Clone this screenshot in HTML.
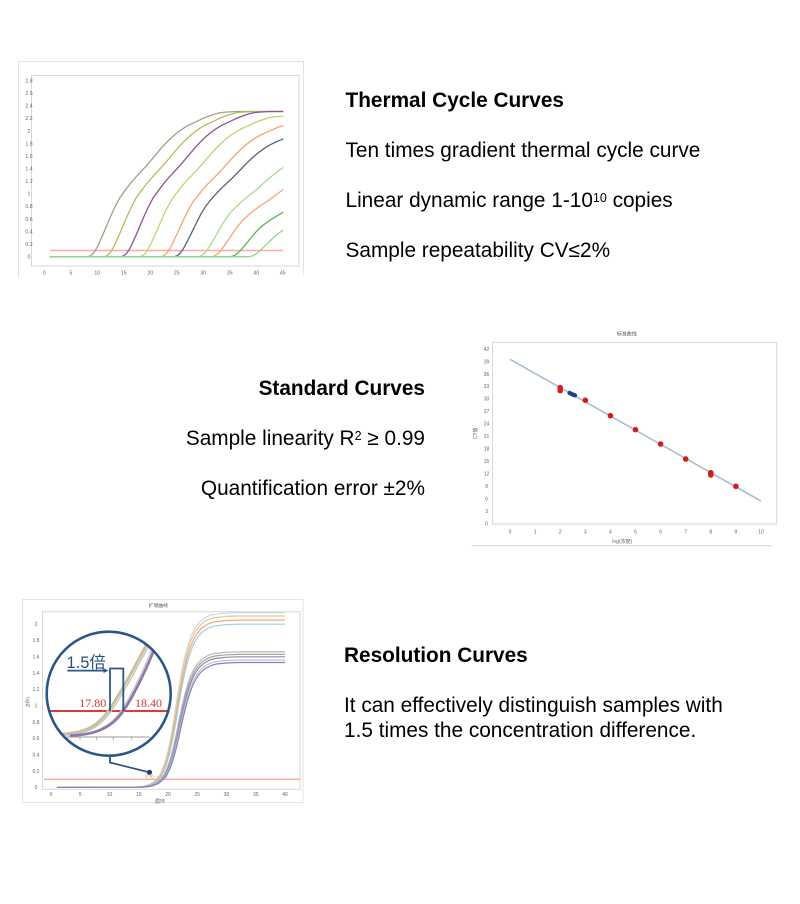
<!DOCTYPE html>
<html>
<head>
<meta charset="utf-8">
<style>
html,body{margin:0;padding:0;background:#fff;}
body{width:800px;height:904px;position:relative;overflow:hidden;font-family:"Liberation Sans","Noto Sans CJK SC",sans-serif;color:#000;}
.t{position:absolute;font-size:20.8px;line-height:24px;white-space:nowrap;}
.b{font-weight:bold;}
.r{text-align:right;}
sup{font-size:12.5px;line-height:0;vertical-align:5px;}
svg{position:absolute;left:0;top:0;}
</style>
</head>
<body>
<svg width="800" height="904" viewBox="0 0 800 904" xmlns="http://www.w3.org/2000/svg" font-family="Liberation Sans, Noto Sans CJK SC, sans-serif">
<defs>
<clipPath id="c1"><rect x="49.6" y="60" width="233.7" height="215"/></clipPath>
<clipPath id="c3"><rect x="56.8" y="600" width="228.2" height="195"/></clipPath>
<clipPath id="cc"><circle cx="108.7" cy="693.7" r="61"/></clipPath>
</defs>

<!-- ============ CHART 1 ============ -->
<path d="M18.5,278 L18.5,61.5 L303.5,61.5 L303.5,275" fill="none" stroke="#e3e3e3" stroke-width="1"/>
<rect x="31.5" y="75.5" width="267.5" height="190.5" fill="none" stroke="#d8d8d8" stroke-width="1"/>
<g font-size="5.2" fill="#666" text-anchor="middle">
<text x="29" y="258.5">0</text>
<text x="29" y="245.9">0.2</text>
<text x="29" y="233.4">0.4</text>
<text x="29" y="220.8">0.6</text>
<text x="29" y="208.2">0.8</text>
<text x="29" y="195.6">1</text>
<text x="29" y="183.1">1.2</text>
<text x="29" y="170.5">1.4</text>
<text x="29" y="157.9">1.6</text>
<text x="29" y="145.3">1.8</text>
<text x="29" y="132.8">2</text>
<text x="29" y="120.2">2.2</text>
<text x="29" y="107.6">2.4</text>
<text x="29" y="95.1">2.6</text>
<text x="29" y="82.5">2.8</text>
<text x="44.3" y="274.5">0</text>
<text x="70.8" y="274.5">5</text>
<text x="97.3" y="274.5">10</text>
<text x="123.8" y="274.5">15</text>
<text x="150.3" y="274.5">20</text>
<text x="176.8" y="274.5">25</text>
<text x="203.3" y="274.5">30</text>
<text x="229.8" y="274.5">35</text>
<text x="256.3" y="274.5">40</text>
<text x="282.8" y="274.5">45</text>
</g>
<line x1="50" y1="250.5" x2="283.3" y2="250.5" stroke="#f6b09c" stroke-width="1.6"/>
<g clip-path="url(#c1)" fill="none" stroke-width="1.3">
<path vector-effect="non-scaling-stroke" stroke="#a29e82" transform="matrix(5.3,0,0,-62.86,87.76,256.7)" d="M-40,0 L0,0 L0.5,0.015 L1,0.05 L1.5,0.11 L2,0.19 L3,0.38 L4,0.58 L5,0.77 L6,0.93 L7,1.05 L8,1.16 L9,1.26 L10,1.35 L11,1.44 L12,1.54 L13,1.64 L14,1.74 L15,1.83 L16,1.91 L17,1.98 L18,2.04 L19,2.09 L20,2.13 L21,2.17 L22,2.21 L23,2.24 L24,2.27 L25,2.29 L26,2.30 L28,2.31 L50,2.31"/>
<path vector-effect="non-scaling-stroke" stroke="#b4bc5a" transform="matrix(5.3,0,0,-62.86,104.19,256.7)" d="M-40,0 L0,0 L0.5,0.015 L1,0.05 L1.5,0.11 L2,0.19 L3,0.38 L4,0.58 L5,0.77 L6,0.93 L7,1.05 L8,1.16 L9,1.26 L10,1.35 L11,1.44 L12,1.54 L13,1.64 L14,1.74 L15,1.83 L16,1.91 L17,1.98 L18,2.04 L19,2.09 L20,2.13 L21,2.17 L22,2.21 L23,2.24 L24,2.27 L25,2.29 L26,2.30 L28,2.31 L50,2.31"/>
<path vector-effect="non-scaling-stroke" stroke="#8e5490" transform="matrix(5.3,0,0,-62.86,121.15,256.7)" d="M-40,0 L0,0 L0.5,0.015 L1,0.05 L1.5,0.11 L2,0.19 L3,0.38 L4,0.58 L5,0.77 L6,0.93 L7,1.05 L8,1.16 L9,1.26 L10,1.35 L11,1.44 L12,1.54 L13,1.64 L14,1.74 L15,1.83 L16,1.91 L17,1.98 L18,2.04 L19,2.09 L20,2.13 L21,2.17 L22,2.21 L23,2.24 L24,2.27 L25,2.29 L26,2.30 L28,2.31 L50,2.31"/>
<path vector-effect="non-scaling-stroke" stroke="#bcd472" transform="matrix(5.3,0,0,-60.97,139.7,256.7)" d="M-40,0 L0,0 L0.5,0.015 L1,0.05 L1.5,0.11 L2,0.19 L3,0.38 L4,0.58 L5,0.77 L6,0.93 L7,1.05 L8,1.16 L9,1.26 L10,1.35 L11,1.44 L12,1.54 L13,1.64 L14,1.74 L15,1.83 L16,1.91 L17,1.98 L18,2.04 L19,2.09 L20,2.13 L21,2.17 L22,2.21 L23,2.24 L24,2.27 L25,2.29 L26,2.30 L28,2.31 L50,2.31"/>
<path vector-effect="non-scaling-stroke" stroke="#f3a472" transform="matrix(5.3,0,0,-58.46,160.9,256.7)" d="M-40,0 L0,0 L0.5,0.015 L1,0.05 L1.5,0.11 L2,0.19 L3,0.38 L4,0.58 L5,0.77 L6,0.93 L7,1.05 L8,1.16 L9,1.26 L10,1.35 L11,1.44 L12,1.54 L13,1.64 L14,1.74 L15,1.83 L16,1.91 L17,1.98 L18,2.04 L19,2.09 L20,2.13 L21,2.17 L22,2.21 L23,2.24 L24,2.27 L25,2.29 L26,2.30 L28,2.31 L50,2.31"/>
<path vector-effect="non-scaling-stroke" stroke="#5e5e74" transform="matrix(5.3,0,0,-54.69,174.15,256.7)" d="M-40,0 L0,0 L0.5,0.015 L1,0.05 L1.5,0.11 L2,0.19 L3,0.38 L4,0.58 L5,0.77 L6,0.93 L7,1.05 L8,1.16 L9,1.26 L10,1.35 L11,1.44 L12,1.54 L13,1.64 L14,1.74 L15,1.83 L16,1.91 L17,1.98 L18,2.04 L19,2.09 L20,2.13 L21,2.17 L22,2.21 L23,2.24 L24,2.27 L25,2.29 L26,2.30 L28,2.31 L50,2.31"/>
<path vector-effect="non-scaling-stroke" stroke="#aadb8e" transform="matrix(5.3,0,0,-46.52,198.0,256.7)" d="M-40,0 L0,0 L0.5,0.015 L1,0.05 L1.5,0.11 L2,0.19 L3,0.38 L4,0.58 L5,0.77 L6,0.93 L7,1.05 L8,1.16 L9,1.26 L10,1.35 L11,1.44 L12,1.54 L13,1.64 L14,1.74 L15,1.83 L16,1.91 L17,1.98 L18,2.04 L19,2.09 L20,2.13 L21,2.17 L22,2.21 L23,2.24 L24,2.27 L25,2.29 L26,2.30 L28,2.31 L50,2.31"/>
<path vector-effect="non-scaling-stroke" stroke="#f2a67a" transform="matrix(5.3,0,0,-39.6,211.25,256.7)" d="M-40,0 L0,0 L0.5,0.015 L1,0.05 L1.5,0.11 L2,0.19 L3,0.38 L4,0.58 L5,0.77 L6,0.93 L7,1.05 L8,1.16 L9,1.26 L10,1.35 L11,1.44 L12,1.54 L13,1.64 L14,1.74 L15,1.83 L16,1.91 L17,1.98 L18,2.04 L19,2.09 L20,2.13 L21,2.17 L22,2.21 L23,2.24 L24,2.27 L25,2.29 L26,2.30 L28,2.31 L50,2.31"/>
<path vector-effect="non-scaling-stroke" stroke="#58b458" transform="matrix(5.3,0,0,-32.69,229.8,256.7)" d="M-40,0 L0,0 L0.5,0.015 L1,0.05 L1.5,0.11 L2,0.19 L3,0.38 L4,0.58 L5,0.77 L6,0.93 L7,1.05 L8,1.16 L9,1.26 L10,1.35 L11,1.44 L12,1.54 L13,1.64 L14,1.74 L15,1.83 L16,1.91 L17,1.98 L18,2.04 L19,2.09 L20,2.13 L21,2.17 L22,2.21 L23,2.24 L24,2.27 L25,2.29 L26,2.30 L28,2.31 L50,2.31"/>
<path vector-effect="non-scaling-stroke" stroke="#92d492" transform="matrix(5.3,0,0,-26.4,248.35,256.7)" d="M-40,0 L0,0 L0.5,0.015 L1,0.05 L1.5,0.11 L2,0.19 L3,0.38 L4,0.58 L5,0.77 L6,0.93 L7,1.05 L8,1.16 L9,1.26 L10,1.35 L11,1.44 L12,1.54 L13,1.64 L14,1.74 L15,1.83 L16,1.91 L17,1.98 L18,2.04 L19,2.09 L20,2.13 L21,2.17 L22,2.21 L23,2.24 L24,2.27 L25,2.29 L26,2.30 L28,2.31 L50,2.31"/>
</g>

<!-- ============ CHART 2 ============ -->
<text x="626.7" y="335.5" font-size="5" fill="#555" text-anchor="middle">标准曲线</text>
<rect x="492.5" y="342.5" width="284.2" height="181.5" fill="none" stroke="#d8d8d8" stroke-width="1"/>
<g font-size="5" fill="#666" text-anchor="middle">
<text x="486.5" y="525.4">0</text>
<text x="486.5" y="512.9">3</text>
<text x="486.5" y="500.5">6</text>
<text x="486.5" y="488.0">9</text>
<text x="486.5" y="475.5">12</text>
<text x="486.5" y="463.1">15</text>
<text x="486.5" y="450.6">18</text>
<text x="486.5" y="438.1">21</text>
<text x="486.5" y="425.7">24</text>
<text x="486.5" y="413.2">27</text>
<text x="486.5" y="400.7">30</text>
<text x="486.5" y="388.2">33</text>
<text x="486.5" y="375.8">36</text>
<text x="486.5" y="363.3">39</text>
<text x="486.5" y="350.9">42</text>
<text x="510" y="533.5">0</text>
<text x="535.1" y="533.5">1</text>
<text x="560.2" y="533.5">2</text>
<text x="585.3" y="533.5">3</text>
<text x="610.4" y="533.5">4</text>
<text x="635.5" y="533.5">5</text>
<text x="660.6" y="533.5">6</text>
<text x="685.7" y="533.5">7</text>
<text x="710.8" y="533.5">8</text>
<text x="735.9" y="533.5">9</text>
<text x="761" y="533.5">10</text>
<text x="622.3" y="543">log(浓度)</text>
<text transform="translate(477.2,433.3) rotate(-90)" x="0" y="0">CT值</text>
</g>
<line x1="471.7" y1="545.7" x2="771.7" y2="545.7" stroke="#d4d4d4" stroke-width="1"/>
<line x1="510" y1="359.3" x2="761" y2="501" stroke="#a9bdd2" stroke-width="1.6"/>
<g fill="#d41c1c">
<circle cx="560.2" cy="387.7" r="2.8"/>
<circle cx="560.2" cy="390.6" r="2.8"/>
<circle cx="585.3" cy="400.3" r="2.8"/>
<circle cx="610.4" cy="415.7" r="2.8"/>
<circle cx="635.5" cy="429.7" r="2.8"/>
<circle cx="660.6" cy="444" r="2.8"/>
<circle cx="685.7" cy="459" r="2.8"/>
<circle cx="710.8" cy="472.7" r="2.8"/>
<circle cx="710.8" cy="475" r="2.8"/>
<circle cx="735.9" cy="486.3" r="2.8"/>
</g>
<g fill="#1d3f8e">
<circle cx="569.6" cy="393" r="2.2"/>
<circle cx="571.6" cy="394" r="2.2"/>
<circle cx="573.5" cy="394.8" r="2.2"/>
<circle cx="575" cy="395.4" r="2.1"/>
</g>

<!-- ============ CHART 3 ============ -->
<rect x="22.5" y="599.5" width="280.5" height="203" fill="none" stroke="#e3e3e3" stroke-width="1"/>
<text x="158.3" y="607" font-size="4.8" fill="#555" text-anchor="middle">扩增曲线</text>
<rect x="42.5" y="611.7" width="257.5" height="177.6" fill="none" stroke="#d8d8d8" stroke-width="1"/>
<g font-size="5" fill="#666" text-anchor="middle">
<text x="36" y="789.2">0</text>
<text x="36" y="772.9">0.2</text>
<text x="36" y="756.5">0.4</text>
<text x="36" y="740.2">0.6</text>
<text x="36" y="723.9">0.8</text>
<text x="36" y="707.5">1</text>
<text x="36" y="691.2">1.2</text>
<text x="36" y="674.9">1.4</text>
<text x="36" y="658.5">1.6</text>
<text x="36" y="642.2">1.8</text>
<text x="36" y="625.9">2</text>
<text x="51" y="796">0</text>
<text x="80.25" y="796">5</text>
<text x="109.5" y="796">10</text>
<text x="138.75" y="796">15</text>
<text x="168" y="796">20</text>
<text x="197.25" y="796">25</text>
<text x="226.5" y="796">30</text>
<text x="255.75" y="796">35</text>
<text x="285" y="796">40</text>
<text x="160" y="803">循环</text>
<text transform="translate(29.5,702) rotate(-90)" x="0" y="0">ΔRn</text>
</g>
<line x1="44" y1="779.3" x2="300" y2="779.3" stroke="#f6b09c" stroke-width="1.5"/>
<text x="145" y="777.5" font-size="3.4" fill="#e06a6a">17.80 ··· 18.40</text>
<g clip-path="url(#c3)" fill="none" stroke-width="1.2">
<path vector-effect="non-scaling-stroke" stroke="#cfd8e6" transform="matrix(5.85,0,0,-174.77,176.78,787.5)" d="M-25,0 L-7,0.002 L-6,0.005 L-5,0.013 L-4,0.03 L-3,0.068 L-2.5,0.1 L-2,0.148 L-1.5,0.212 L-1,0.293 L-0.5,0.39 L0,0.5 L0.5,0.6 L1,0.69 L1.5,0.765 L2,0.825 L2.5,0.87 L3,0.905 L3.5,0.93 L4,0.95 L5,0.975 L6,0.988 L8,0.997 L10,1 L25,1"/>
<path vector-effect="non-scaling-stroke" stroke="#e6c892" transform="matrix(5.85,0,0,-171.5,177.36,787.5)" d="M-25,0 L-7,0.002 L-6,0.005 L-5,0.013 L-4,0.03 L-3,0.068 L-2.5,0.1 L-2,0.148 L-1.5,0.212 L-1,0.293 L-0.5,0.39 L0,0.5 L0.5,0.6 L1,0.69 L1.5,0.765 L2,0.825 L2.5,0.87 L3,0.905 L3.5,0.93 L4,0.95 L5,0.975 L6,0.988 L8,0.997 L10,1 L25,1"/>
<path vector-effect="non-scaling-stroke" stroke="#f2a878" transform="matrix(5.85,0,0,-167.4,177.95,787.5)" d="M-25,0 L-7,0.002 L-6,0.005 L-5,0.013 L-4,0.03 L-3,0.068 L-2.5,0.1 L-2,0.148 L-1.5,0.212 L-1,0.293 L-0.5,0.39 L0,0.5 L0.5,0.6 L1,0.69 L1.5,0.765 L2,0.825 L2.5,0.87 L3,0.905 L3.5,0.93 L4,0.95 L5,0.975 L6,0.988 L8,0.997 L10,1 L25,1"/>
<path vector-effect="non-scaling-stroke" stroke="#9fd0dc" transform="matrix(5.85,0,0,-163.3,178.53,787.5)" d="M-25,0 L-7,0.002 L-6,0.005 L-5,0.013 L-4,0.03 L-3,0.068 L-2.5,0.1 L-2,0.148 L-1.5,0.212 L-1,0.293 L-0.5,0.39 L0,0.5 L0.5,0.6 L1,0.69 L1.5,0.765 L2,0.825 L2.5,0.87 L3,0.905 L3.5,0.93 L4,0.95 L5,0.975 L6,0.988 L8,0.997 L10,1 L25,1"/>
<path vector-effect="non-scaling-stroke" stroke="#b8b4cc" transform="matrix(5.85,0,0,-135.6,179.12,787.5)" d="M-25,0 L-7,0.002 L-6,0.005 L-5,0.013 L-4,0.03 L-3,0.068 L-2.5,0.1 L-2,0.148 L-1.5,0.212 L-1,0.293 L-0.5,0.39 L0,0.5 L0.5,0.6 L1,0.69 L1.5,0.765 L2,0.825 L2.5,0.87 L3,0.905 L3.5,0.93 L4,0.95 L5,0.975 L6,0.988 L8,0.997 L10,1 L25,1"/>
<path vector-effect="non-scaling-stroke" stroke="#a9a688" transform="matrix(5.85,0,0,-133.1,179.7,787.5)" d="M-25,0 L-7,0.002 L-6,0.005 L-5,0.013 L-4,0.03 L-3,0.068 L-2.5,0.1 L-2,0.148 L-1.5,0.212 L-1,0.293 L-0.5,0.39 L0,0.5 L0.5,0.6 L1,0.69 L1.5,0.765 L2,0.825 L2.5,0.87 L3,0.905 L3.5,0.93 L4,0.95 L5,0.975 L6,0.988 L8,0.997 L10,1 L25,1"/>
<path vector-effect="non-scaling-stroke" stroke="#8c8cb0" transform="matrix(5.85,0,0,-130.7,180.29,787.5)" d="M-25,0 L-7,0.002 L-6,0.005 L-5,0.013 L-4,0.03 L-3,0.068 L-2.5,0.1 L-2,0.148 L-1.5,0.212 L-1,0.293 L-0.5,0.39 L0,0.5 L0.5,0.6 L1,0.69 L1.5,0.765 L2,0.825 L2.5,0.87 L3,0.905 L3.5,0.93 L4,0.95 L5,0.975 L6,0.988 L8,0.997 L10,1 L25,1"/>
<path vector-effect="non-scaling-stroke" stroke="#c4c0dc" transform="matrix(5.85,0,0,-127.4,180.87,787.5)" d="M-25,0 L-7,0.002 L-6,0.005 L-5,0.013 L-4,0.03 L-3,0.068 L-2.5,0.1 L-2,0.148 L-1.5,0.212 L-1,0.293 L-0.5,0.39 L0,0.5 L0.5,0.6 L1,0.69 L1.5,0.765 L2,0.825 L2.5,0.87 L3,0.905 L3.5,0.93 L4,0.95 L5,0.975 L6,0.988 L8,0.997 L10,1 L25,1"/>
<path vector-effect="non-scaling-stroke" stroke="#7f82bf" transform="matrix(5.85,0,0,-125.0,181.46,787.5)" d="M-25,0 L-7,0.002 L-6,0.005 L-5,0.013 L-4,0.03 L-3,0.068 L-2.5,0.1 L-2,0.148 L-1.5,0.212 L-1,0.293 L-0.5,0.39 L0,0.5 L0.5,0.6 L1,0.69 L1.5,0.765 L2,0.825 L2.5,0.87 L3,0.905 L3.5,0.93 L4,0.95 L5,0.975 L6,0.988 L8,0.997 L10,1 L25,1"/>
</g>

<!-- magnifier -->
<circle cx="108.7" cy="693.7" r="62" fill="#fff"/>
<g clip-path="url(#cc)">
<line x1="40" y1="711" x2="180" y2="711" stroke="#d93a3a" stroke-width="1.9"/>
<line x1="66.7" y1="737" x2="150" y2="737" stroke="#9a9a9a" stroke-width="1"/>
<g stroke="#9a9a9a" stroke-width="0.8">
<line x1="80" y1="737" x2="80" y2="740"/>
<line x1="96.7" y1="737" x2="96.7" y2="740"/>
<line x1="113.3" y1="737" x2="113.3" y2="740"/>
<line x1="131.7" y1="737" x2="131.7" y2="740"/>
</g>
<path d="M62,734 C88,733 99,724 108.3,711 S138,662 156,626" fill="none" stroke="#c9c09a" stroke-width="2.8"/>
<path d="M62,734 C88,733 99,724 108.3,711 S138,662 156,626" transform="translate(2.3,1)" fill="none" stroke="#c4c4c0" stroke-width="1.4"/>
<path d="M70,735.5 C98,735 113,726 123.3,711 S149,665 161,632" transform="translate(-2.4,0)" fill="none" stroke="#c8c8d2" stroke-width="1.4"/>
<path d="M70,735.5 C98,735 113,726 123.3,711 S149,665 161,632" fill="none" stroke="#8a78a8" stroke-width="2.6"/>
</g>
<circle cx="108.7" cy="693.7" r="62" fill="none" stroke="#2b5788" stroke-width="2.6"/>
<text x="66.5" y="668" font-size="16.5" fill="#2b4f80" font-family="Liberation Sans, Noto Sans CJK SC, sans-serif">1.5倍</text>
<line x1="67.3" y1="670.6" x2="105" y2="670.6" stroke="#2b5788" stroke-width="1.8"/>
<path d="M108.5,670.6 L103.5,668.2 L103.5,673 Z" fill="#2b5788"/>
<path d="M110,711 L110,668.5 L123.3,668.5 L123.3,711" fill="none" stroke="#2b5788" stroke-width="1.8"/>
<text x="79.3" y="707" font-size="12" fill="#d23434" font-family="Liberation Serif, serif">17.80</text>
<text x="135" y="707" font-size="12" fill="#d23434" font-family="Liberation Serif, serif">18.40</text>
<path d="M110,755.7 L110,762.5 L148,772" fill="none" stroke="#2b5788" stroke-width="1.8"/>
<circle cx="149.5" cy="772.3" r="2.6" fill="#1e3f70"/>
</svg>

<div class="t b" style="left:345.5px;top:88.7px;">Thermal Cycle Curves</div>
<div class="t" style="left:345.5px;top:138.7px;">Ten times gradient thermal cycle curve</div>
<div class="t" style="left:345.5px;top:188.7px;">Linear dynamic range 1-10<sup>10</sup> copies</div>
<div class="t" style="left:345.5px;top:238.7px;">Sample repeatability CV≤2%</div>

<div class="t b r" style="right:375px;top:376.7px;">Standard Curves</div>
<div class="t r" style="right:375px;top:426.7px;">Sample linearity R<sup>2</sup> ≥ 0.99</div>
<div class="t r" style="right:375px;top:476.7px;">Quantification error ±2%</div>

<div class="t b" style="left:344px;top:643.7px;">Resolution Curves</div>
<div class="t" style="left:344px;top:694px;">It can effectively distinguish samples with</div>
<div class="t" style="left:344px;top:719px;">1.5 times the concentration difference.</div>
</body>
</html>
